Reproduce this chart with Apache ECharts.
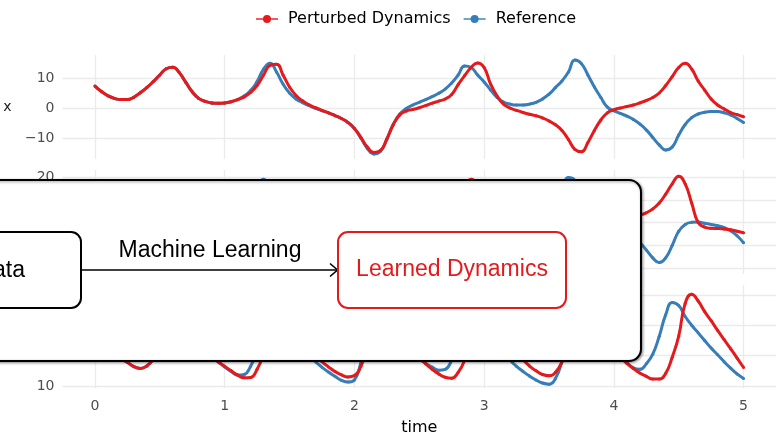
<!DOCTYPE html>
<html><head><meta charset="utf-8">
<script src="https://cdn.jsdelivr.net/npm/echarts@6/dist/echarts.min.js"></script>
<style>html,body{margin:0;padding:0;background:#fff}#c{width:776px;height:437px}</style>
</head><body><div id="c"></div>
<script>
// time axis (sample times)
const time = [0,0.05,0.1,0.15,0.2,0.25,0.3,0.35,0.4,0.45,0.5,0.55,0.6,0.65,0.7,0.75,0.8,0.85,0.9,0.95,
1,1.05,1.1,1.15,1.2,1.25,1.3,1.35,1.4,1.45,1.5,1.55,1.6,1.65,1.7,1.75,1.8,1.85,1.9,1.95,
2,2.05,2.1,2.15,2.2,2.25,2.3,2.35,2.4,2.45,2.5,2.55,2.6,2.65,2.7,2.75,2.8,2.85,2.9,2.95,
3,3.05,3.1,3.15,3.2,3.25,3.3,3.35,3.4,3.45,3.5,3.55,3.6,3.65,3.7,3.75,3.8,3.85,3.9,3.95,
4,4.05,4.1,4.15,4.2,4.25,4.3,4.35,4.4,4.45,4.5,4.55,4.6,4.65,4.7,4.75,4.8,4.85,4.9,4.95,5];

// x panel
const xRef = [7.3,5.5,4.1,3.2,2.8,2.8,3.6,5.1,6.8,8.8,11.0,13.1,13.6,11.8,8.6,5.4,3.2,2.2,1.7,1.6,1.7,2.1,2.8,
4.0,5.8,8.8,13.0,14.9,12.0,8.0,5.0,3.0,1.8,0.8,-0.1,-0.9,-1.6,-2.5,-3.5,-4.8,
-6.8,-10.0,-13.5,-15.3,-14.5,-10.5,-5.5,-2.0,-0.2,1.0,1.9,2.8,3.8,4.9,6.3,8.3,11.0,14.0,13.5,11.0,
8.7,6.0,3.5,2.0,1.3,1.0,1.0,1.3,1.9,3.0,4.6,6.8,9.0,12.0,16.0,14.8,11.0,7.0,3.5,0.3,
-0.9,-1.8,-2.7,-3.8,-5.3,-7.3,-9.8,-12.3,-14.0,-13.0,-9.0,-5.5,-3.2,-2.0,-1.4,-1.2,-1.2,-1.6,-2.3,-3.5,-4.8];
const xPert = [7.3,5.5,4.1,3.2,2.8,2.8,3.6,5.1,6.8,8.8,11.0,13.1,13.6,11.8,8.6,5.4,3.2,2.2,1.7,1.6,1.7,2.1,2.8,
3.7,5.2,7.5,11.0,14.2,14.6,11.0,7.0,4.2,2.4,1.1,0.1,-0.8,-1.6,-2.5,-3.5,-4.8,
-6.8,-9.8,-13.0,-14.8,-14.2,-10.3,-5.5,-2.3,-1.0,-0.5,0.1,0.8,1.6,2.3,3.0,4.5,7.8,10.8,13.5,15.0,
13.5,8.0,4.0,1.3,0.0,-0.8,-1.5,-2.1,-2.6,-3.3,-4.3,-5.6,-7.5,-10.5,-13.8,-14.6,-11.5,-7.5,-4.0,-1.6,
-0.6,0.0,0.5,1.0,1.7,2.5,3.5,5.0,7.5,10.5,13.5,14.9,13.0,9.0,6.0,3.0,1.0,-0.3,-1.5,-2.2,-2.9];

// y panel
const yRef = [3.7,2.3,1.8,1.9,2.4,3.6,5.9,8.3,10.5,13.0,15.3,15.7,12.3,6.8,2.2,0.0,0.0,0.7,1.1,1.6,2.2,3.2,4.7,
7.0,10.6,16.0,19.0,13.8,5.2,1.0,0.0,-0.2,-0.4,-1.1,-1.8,-2.4,-3.2,-4.4,-5.8,-8.1,
-12.0,-16.7,-18.8,-16.3,-9.7,-1.5,3.0,3.3,2.8,3.1,3.7,4.7,5.9,7.4,9.7,13.0,16.7,16.5,10.5,6.2,
3.7,0.8,-0.5,-0.2,0.3,0.7,1.3,2.2,3.6,5.7,8.4,11.2,14.2,19.8,18.5,10.7,2.8,-0.5,-3.2,-3.8,
-3.3,-3.6,-4.7,-6.4,-8.8,-12.0,-15.5,-17.6,-15.5,-10.0,-3.8,-0.8,0.1,0.2,-0.3,-0.8,-1.4,-2.2,-3.6,-5.8,-8.9];
const yPert = [3.7,2.3,1.8,1.9,2.4,3.6,5.9,8.3,10.5,13.0,15.3,15.7,12.3,6.8,2.2,0.0,0.0,0.7,1.1,1.6,2.2,3.2,4.7,
6.1,9.0,13.3,18.5,18.0,11.3,3.5,0.2,-0.4,-0.7,-1.2,-1.8,-2.5,-3.3,-4.4,-5.8,-8.1,
-11.8,-16.0,-18.0,-16.0,-9.7,-1.6,2.5,2.2,0.8,0.6,1.4,2.3,3.1,3.7,5.2,9.3,14.1,16.5,19.0,15.5,
6.5,-1.5,-2.7,-2.7,-2.1,-2.3,-2.8,-3.2,-3.8,-5.0,-6.6,-8.8,-12.4,-16.8,-17.9,-12.3,-4.4,0.0,1.9,1.8,
1.0,1.1,1.5,2.2,3.2,4.3,6.0,8.6,12.5,17.0,20.4,17.0,8.6,0.0,-2.0,-2.5,-2.6,-2.8,-3.2,-3.8,-4.5];

// z panel
const zRef = [27.0,24.5,22.3,20.5,19.0,17.8,16.4,15.8,16.6,18.8,22.5,27.5,32.5,34.0,31.0,27.0,23.5,21.0,19.8,18.0,
16.3,14.8,13.6,13.8,16.5,21.5,28.5,36.0,38.0,34.5,30.0,26.2,23.0,20.2,18.0,16.2,14.6,13.2,11.9,11.3,
12.0,17.5,24.0,32.0,38.5,37.5,32.5,28.5,25.0,22.0,19.0,17.5,16.2,15.2,15.5,18.5,23.5,29.5,35.0,35.5,
31.5,27.5,24.0,21.0,18.5,16.5,14.8,13.3,12.0,11.0,10.6,12.5,18.0,25.5,34.0,40.5,40.0,35.5,31.0,27.0,
23.5,20.5,17.8,16.0,15.5,17.3,20.5,26.4,33.5,37.5,36.5,32.9,30.0,27.5,25.0,22.5,20.3,18.0,15.9,14.0,12.5];
const zPert = [27.0,24.5,22.3,20.5,19.0,17.8,16.4,15.8,16.6,18.8,22.5,27.5,32.5,34.0,31.0,27.0,23.5,21.0,19.8,18.0,
16.5,15.0,13.6,12.7,12.8,15.5,20.5,27.5,35.0,37.8,34.5,30.0,26.3,23.0,20.3,18.0,16.3,14.8,13.7,13.0,
13.4,16.5,22.5,31.0,37.5,37.0,32.5,28.5,25.0,22.0,19.5,17.3,15.5,14.0,12.9,12.6,14.5,18.5,25.5,33.5,
38.8,36.0,31.5,27.5,24.0,21.0,18.6,16.6,15.0,13.8,13.4,14.5,18.0,24.5,32.5,38.0,37.5,33.0,28.5,25.0,
22.0,19.5,17.5,15.8,14.3,13.2,12.3,12.3,14.2,19.5,26.4,37.2,40.2,38.0,34.5,31.5,28.3,25.3,22.3,19.2,16.1];

const panelNames = ['x','y','z'];
const refSeries = [xRef, yRef, zRef];
const pertSeries = [xPert, yPert, zPert];
const yRanges = [[-17,17.67],[-22.6,23.1],[9.35,43.26]];

const RED = '#E41A1C', BLUE = '#377EB8';
const FONT = 'DejaVu Sans';
const pairs = (arr) => arr.map((v, i) => [time[i], v]);
const minus = (v) => String(v).replace('-', '\u2212');

const grids = [], xAxes = [], yAxes = [], series = [];
const tops = [55, 170, 285];
for (let p = 0; p < 3; p++) {
  grids.push({left: 62.5, width: 715, top: tops[p], height: 104});
  xAxes.push({
    type: 'value', gridIndex: p, min: -0.25, max: 5.25, minInterval: 1, maxInterval: 1,
    axisLine: {show: false}, axisTick: {show: false},
    axisLabel: {show: p === 2, showMinLabel: false, showMaxLabel: false, margin: 11,
      fontSize: 14, color: '#4D4D4D', fontFamily: FONT},
    splitLine: {show: true, showMinLine: false, showMaxLine: false, lineStyle: {color: '#EBEBEB', width: 1.3}},
    name: p === 2 ? 'time' : '', nameLocation: 'middle', nameGap: 32,
    nameTextStyle: {fontSize: 16, color: '#000', fontFamily: FONT}
  });
  yAxes.push({
    type: 'value', gridIndex: p, min: yRanges[p][0], max: yRanges[p][1], minInterval: 10, maxInterval: 10,
    axisLine: {show: false}, axisTick: {show: false},
    axisLabel: {showMinLabel: false, showMaxLabel: false, margin: 8, fontSize: 14, color: '#4D4D4D', fontFamily: FONT,
      formatter: minus},
    splitLine: {show: true, showMinLine: false, showMaxLine: false, lineStyle: {color: '#EBEBEB', width: 1.3}},
    name: panelNames[p], nameLocation: 'middle', nameRotate: 0, nameGap: 55,
    nameTextStyle: {fontSize: 14, color: '#1A1A1A', fontFamily: FONT, align: 'center', verticalAlign: 'middle'}
  });
  series.push({
    type: 'line', name: 'Reference', xAxisIndex: p, yAxisIndex: p, data: pairs(refSeries[p]),
    smooth: 0.5, symbol: 'circle', symbolSize: 3, showSymbol: true, showAllSymbol: true,
    lineStyle: {width: 3, color: BLUE}, itemStyle: {color: BLUE}, z: 2, animation: false
  });
  series.push({
    type: 'line', name: 'Perturbed Dynamics', xAxisIndex: p, yAxisIndex: p, data: pairs(pertSeries[p]),
    smooth: 0.5, symbol: 'circle', symbolSize: 3, showSymbol: true, showAllSymbol: true,
    lineStyle: {width: 3, color: RED}, itemStyle: {color: RED}, z: 3, animation: false
  });
}

const OV = '"Liberation Sans", Arial, sans-serif';
const chart = echarts.init(document.getElementById('c'), null, {renderer: 'canvas'});
chart.setOption({
  animation: false,
  backgroundColor: '#fff',
  textStyle: {fontFamily: FONT},
  legend: {
    data: ['Perturbed Dynamics', 'Reference'], left: 250, top: 6, itemWidth: 22, itemHeight: 10, itemGap: 12,
    textStyle: {fontSize: 16, color: '#000', fontFamily: FONT, padding: [0, 0, 0, 5]},
    lineStyle: {width: 2, opacity: 0.7}
  },
  grid: grids, xAxis: xAxes, yAxis: yAxes, series: series,
  graphic: {elements: [
    {type: 'rect', z: 100, shape: {x: -30, y: 180, width: 671, height: 181, r: 12},
     style: {fill: '#fff', stroke: '#000', lineWidth: 2, shadowBlur: 3, shadowColor: 'rgba(0,0,0,0.4)', shadowOffsetX: 1, shadowOffsetY: 1}},
    {type: 'rect', z: 101, shape: {x: -40, y: 232, width: 121, height: 76, r: 10},
     style: {fill: '#fff', stroke: '#000', lineWidth: 2}},
    {type: 'text', z: 102, x: 25, y: 271, style: {text: 'Data', font: '23px ' + OV, fill: '#000', align: 'right', verticalAlign: 'middle'}},
    {type: 'line', z: 101, shape: {x1: 81, y1: 270, x2: 337, y2: 270}, style: {stroke: '#000', lineWidth: 1.6}},
    {type: 'polyline', z: 101, shape: {points: [[330, 263.5], [337.5, 270], [330, 276.5]]}, style: {stroke: '#000', lineWidth: 1.6, fill: null}},
    {type: 'text', z: 102, x: 210, y: 251, style: {text: 'Machine Learning', font: '23px ' + OV, fill: '#000', align: 'center', verticalAlign: 'middle'}},
    {type: 'rect', z: 101, shape: {x: 338, y: 232, width: 228, height: 76, r: 10},
     style: {fill: '#fff', stroke: RED, lineWidth: 2}},
    {type: 'text', z: 102, x: 452, y: 270, style: {text: 'Learned Dynamics', font: '23px ' + OV, fill: RED, align: 'center', verticalAlign: 'middle'}}
  ]}
});
</script></body></html>
